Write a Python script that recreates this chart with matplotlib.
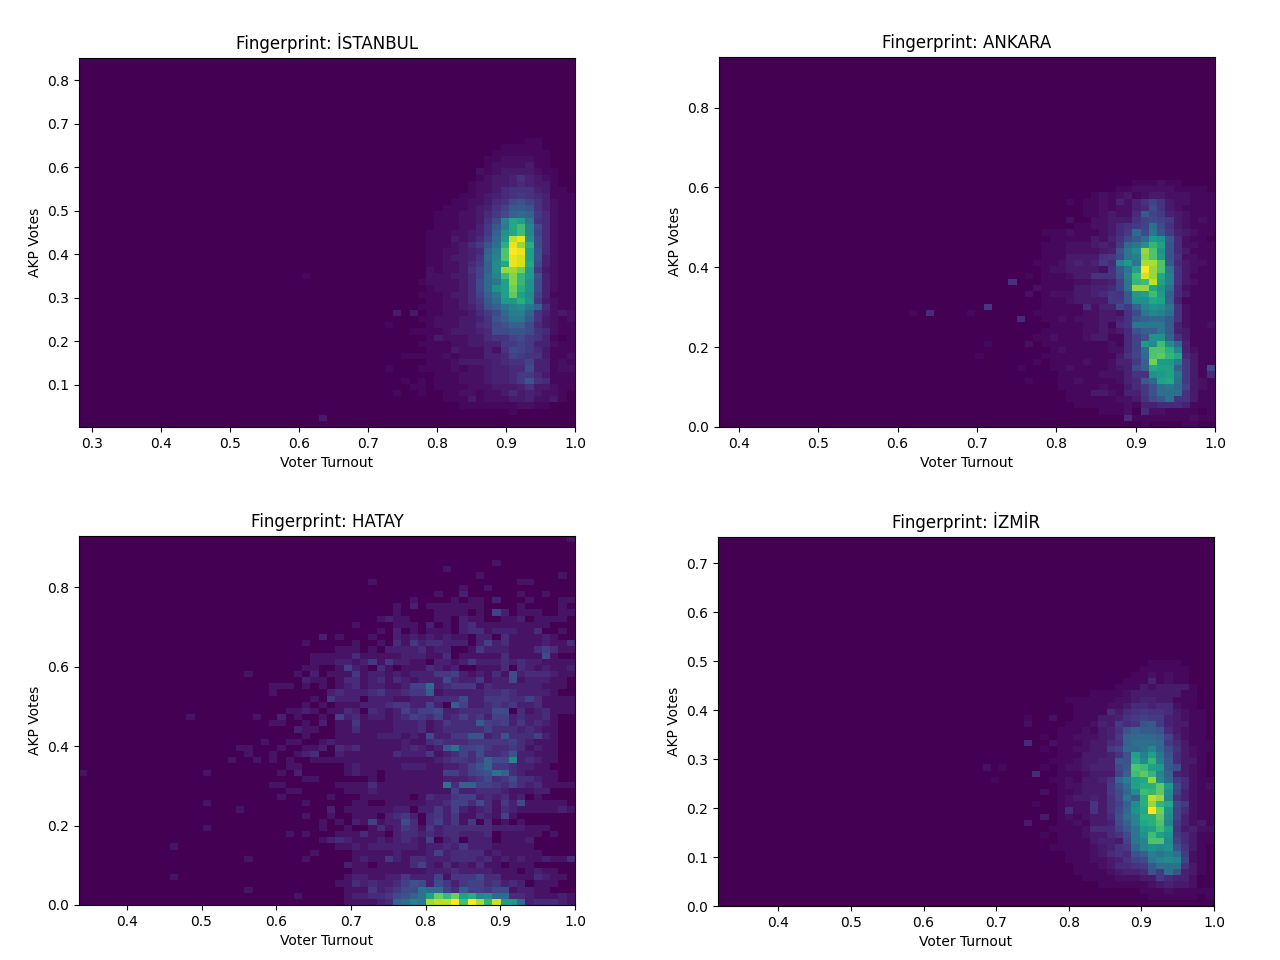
import matplotlib
matplotlib.use('Agg')
import matplotlib.pyplot as plt
from matplotlib.colors import PowerNorm
import numpy as np

NBINS = 60

# counts, one base-36 digit per cell, top row first
istanbul_first_col = 42
istanbul_rows = [
    "000000000000110000", "000000000111110000", "000000001111111000", "000000011222211000",
    "000000012222311000", "000000212333321100", "000000123346432100", "000001223345433100",
    "000001223566643110", "000011234567654111", "00011223569a864211", "0011123468bba64211",
    "0111223579cdc75211", "011122369hmlf65211", "01112247bgmph95211", "11122347cjmph85211",
    "11132358dkwyj95211", "1112357aenyun95211", "1122345cgqzyla5211", "1123346dhqyxla4211",
    "1122357cimyxm94211", "2122368ciuusk73211", "2223358dhptoka4211", "2222359dfltoj94211",
    "1222359djlsnj94211", "1123358cflrli84111", "1122357bekknj73211", "1122346acfhifc5211",
    "112223579dggc64232", "12223346acffb63212", "122233569acc953211", "1123334599aa965211",
    "132223356689764101", "111223344778744211", "111322242698753111", "112122244587663112",
    "111233334566844121", "111212234455944122", "011122234457753111", "011122234457a65111",
    "011112223334633211", "001122122353432210", "001113122233422310", "000011111112211000",
    "000000000010000000", "000000000000000000", "000000000000000000",
]
istanbul_extra = [(38, 18, 3), (40, 18, 3), (29, 1, 3), (27, 24, 1), (39, 7, 1), (40, 6, 1),
                  (38, 5, 1), (37, 16, 1), (37, 9, 1), (39, 11, 1), (40, 11, 1), (40, 15, 1),
                  (41, 5, 1), (41, 6, 1), (41, 7, 1), (41, 9, 1), (41, 11, 1), (41, 13, 1),
                  (41, 15, 1), (41, 17, 1), (41, 19, 1), (41, 21, 1), (41, 23, 1)]

ankara_first_col = 39
ankara_rows = [
    "000000000001112110000", "000000000112222211110", "000000121231233222111", "000101121424686322111",
    "000001121224596321111", "000001123225b87432111", "000200223336898732121", "0000112235678e9632111",
    "11121112357d9fa743211", "01111132469bekjb52110", "1112223437dfjola52211", "111222234afiuqja53111",
    "1113333679fgtqka62211", "112343475hkfvvqb53221", "122333326bflzuqf63211", "111233666agpxumg63111",
    "1111223348fopwlg63211", "1111334458fuumje52111", "1222334576bklpkc53111", "1112333377bjjmlc41111",
    "11111524497chjif62111", "111112233269fhge62111", "11212223346bcddb62111", "01111223156ffffb42112",
    "11111223235accfb43111", "121112331158ajjc63111", "111111112158kipid4111", "012111112258eqqnh4211",
    "111111111368dqrom5311", "011112112447cskkg7311", "011211112349cmllc7319", "0011111222466jklf7315",
    "001121111245bdlme7321", "0011111211357aefd8321", "0001113321447aeee6311", "00011111122369be66311",
    "000011111121445554111", "000000011120522111101", "000000000051111111211", "000000000000100001100",
]
ankara_extra = [(25, 18, 5), (32, 19, 7), (35, 23, 6), (36, 17, 5), (32, 13, 1), (23, 18, 1),
                (30, 18, 1), (31, 11, 1), (37, 13, 2), (37, 21, 2), (38, 22, 2), (38, 14, 1),
                (38, 18, 1), (37, 24, 1), (38, 26, 1), (38, 10, 1), (36, 9, 1), (37, 7, 1)]

hatay_first_col = 31
hatay_rows = [
    "00000000000000000000000000001", "00000000000000000000000000000", "00000000000000000000000000000",
    "00000000000000000000000000000", "00000000000000000001000000000", "00000000000001000000000000000",
    "00000000000000000100000000010", "00001000000000000000001100000", "00000000000000010010000000000",
    "00000000000010020000001001000", "00000000010000101102000100011", "00000001020111111100001000010",
    "00000001000011110105201110011", "00000121100011021100112011110", "00100001110201023111111111000",
    "00000102010111023312221130010", "10001002121212110220311112100", "00100103142332220252311112113",
    "11101022223122001422211135311", "11311111222113011111311116100", "22124142211022124222323221111",
    "15210310111321200111303212112", "11412212122244521213162333211", "13312313212226322412261222110",
    "12312211255a23444132222221110", "32223422344812222233432222100", "22202221122233362244433531111",
    "11122234422520852234342231111", "13203212535562233336603123111", "52312212354352353425523223100",
    "11411112223124333854524232100", "11311112223123333353332321100", "11111222121622447723733352100",
    "11111111211343334444453211100", "32311111232128b55643343121100", "21111113222412353633472211100",
    "111111111111234435966e2321100", "01211111222112235794432211000", "0121101111111553567b932111100",
    "00001011111112223463463321100", "1111311111111b399554353231111", "01112111111111522333211122000",
    "00011111101322455232312010000", "00110011111223553631426111110", "01111112202242521231321111121",
    "00111023420342411321510000000", "10215122630352414030101000000", "01001312431423333332222111000",
    "11131102332323322230111110100", "32111212321502302220111200000", "11212222221223242221111100000",
    "00111112111252333312111110000", "00121142133222333231212112113", "02110111135213121311011100000",
    "00111111111222322221110121100", "01221122422251444633111132110", "11323223576264245534232011100",
    "0111423466baa5385546612211000", "0122334679biqmqikefaa33211121", "01111239adctvvznzulwhha233321",
]
hatay_extra = [(29, 43, 2), (27, 42, 1), (20, 37, 1), (28, 40, 1), (29, 40, 1), (30, 40, 1), (28, 39, 1),
               (29, 39, 1), (30, 39, 1), (27, 38, 1), (28, 38, 1), (26, 37, 1), (28, 37, 2), (30, 37, 1),
               (27, 36, 2), (28, 36, 1), (29, 36, 1), (29, 35, 1), (27, 35, 1), (23, 35, 1), (24, 35, 1),
               (25, 35, 1), (23, 34, 1), (30, 34, 2), (30, 33, 4), (28, 33, 1), (27, 32, 1), (29, 32, 1),
               (25, 31, 1), (26, 31, 1), (27, 31, 2), (28, 31, 1), (30, 31, 1), (13, 30, 1), (21, 30, 1),
               (24, 30, 2), (26, 30, 1), (29, 30, 1), (23, 29, 1), (24, 29, 1), (27, 29, 1), (29, 29, 2),
               (26, 28, 2), (27, 28, 1), (28, 28, 1), (27, 27, 1), (22, 26, 1), (25, 26, 1), (26, 26, 1),
               (29, 26, 1), (30, 26, 2), (19, 25, 1), (20, 25, 1), (24, 25, 1), (27, 25, 1), (28, 25, 1),
               (29, 25, 2), (20, 24, 1), (23, 24, 1), (26, 24, 1), (27, 24, 2), (28, 24, 3), (18, 23, 1),
               (21, 23, 1), (23, 23, 1), (25, 23, 1), (28, 23, 1), (29, 23, 1), (30, 23, 1), (25, 22, 1),
               (26, 22, 1), (15, 21, 1), (24, 21, 1), (26, 21, 2), (27, 20, 1), (28, 20, 1), (23, 19, 1),
               (24, 19, 1), (25, 18, 1), (26, 18, 1), (24, 17, 1), (30, 17, 1), (15, 16, 1), (27, 16, 1),
               (19, 15, 1), (30, 15, 2), (27, 14, 1), (30, 14, 1), (29, 13, 1), (15, 12, 1), (29, 12, 1),
               (25, 11, 1), (27, 11, 1), (29, 10, 1), (30, 10, 2), (11, 9, 1), (28, 8, 1), (20, 7, 1),
               (27, 7, 1), (11, 4, 1), (20, 2, 1), (26, 1, 1), (0, 21, 1)]

izmir_first_col = 41
izmir_rows = [
    "0000000000011110000", "0000000000111111000", "0000000001121211000", "0000000011141211000",
    "0000000111323333100", "0000111123333331100", "0111111223443311100", "0011112235545521100",
    "0011115356766532110", "0011133467877432110", "0111243756ab7433110", "11121346acbba532110",
    "11222347cdddc842110", "11123356ceeed753111", "11223378ddehd963211", "11133346alglfa53210",
    "1123344bamiogb53310", "12234449bqplkb93210", "11123338cprohc43210", "1213346dglmuid75211",
    "1223337aelnnrk95212", "11233379dipori84211", "12334369fcnwuh64211", "12226368cinuom97211",
    "15226369djmzsj85211", "1212335aehnnri84211", "11213349chmnqh74231", "11125558bfklpl63422",
    "111233569fjplj75311", "111134438fhqqi85311", "111123467dhjija6310", "011123565acgfge7210",
    "01112234689fhih8210", "00111235567beee6310", "00111123445a7ea4310", "0001111222337544200",
    "0000011111123433200", "0000000000111211111", "0000000000011111101", "0000000000000000000",
]
izmir_extra = [(37, 26, 5), (38, 21, 5), (32, 22, 2), (34, 22, 1), (37, 29, 2), (37, 13, 3), (39, 14, 3),
               (39, 18, 2), (40, 30, 2), (39, 27, 1), (40, 26, 2), (39, 25, 1), (40, 23, 1), (39, 22, 1),
               (40, 20, 1), (38, 16, 1), (40, 12, 1), (39, 11, 1), (40, 9, 1), (33, 20, 1), (37, 30, 1)]

titles = ['Fingerprint: İSTANBUL', 'Fingerprint: ANKARA', 'Fingerprint: HATAY', 'Fingerprint: İZMİR']
x_limits = [(0.281, 1.0), (0.375, 1.0), (0.336, 1.0), (0.317, 1.0)]
y_limits = [(0.003, 0.852), (0.0, 0.928), (0.0, 0.931), (0.0, 0.755)]
all_rows = [istanbul_rows, ankara_rows, hatay_rows, izmir_rows]
first_cols = [istanbul_first_col, ankara_first_col, hatay_first_col, izmir_first_col]
extras = [istanbul_extra, ankara_extra, hatay_extra, izmir_extra]
gammas = [1.1, 1.1, 0.85, 1.1]

# pixel boxes of the panels: left, right, top, bottom
boxes = [(79, 575, 57.5, 427), (719, 1215, 56.5, 427), (79, 575, 535.5, 905), (718, 1214, 536.5, 906)]


def build_counts(rows, first_col, extra):
    counts = np.zeros((NBINS, NBINS))
    for k, row in enumerate(reversed(rows)):
        for i, ch in enumerate(row):
            counts[k, first_col + i] = int(ch, 36)
    for col, row, value in extra:
        counts[row, col] = value
    return counts


fig = plt.figure(figsize=(12.8, 9.6))

for n in range(4):
    left, right, top, bottom = boxes[n]
    ax = fig.add_axes([left / 1280, 1 - bottom / 960, (right - left) / 1280, (bottom - top) / 960])
    xedges = np.linspace(x_limits[n][0], x_limits[n][1], NBINS + 1)
    yedges = np.linspace(y_limits[n][0], y_limits[n][1], NBINS + 1)
    counts = build_counts(all_rows[n], first_cols[n], extras[n])
    # gamma per panel so the faint cells stay as dark or light as in the original
    ax.pcolormesh(xedges, yedges, counts, cmap='viridis', norm=PowerNorm(gammas[n], vmin=0, vmax=35))
    ax.set_title(titles[n])
    ax.set_xlabel('Voter Turnout')
    ax.set_ylabel('AKP Votes')

plt.savefig('out.png', dpi=100)
